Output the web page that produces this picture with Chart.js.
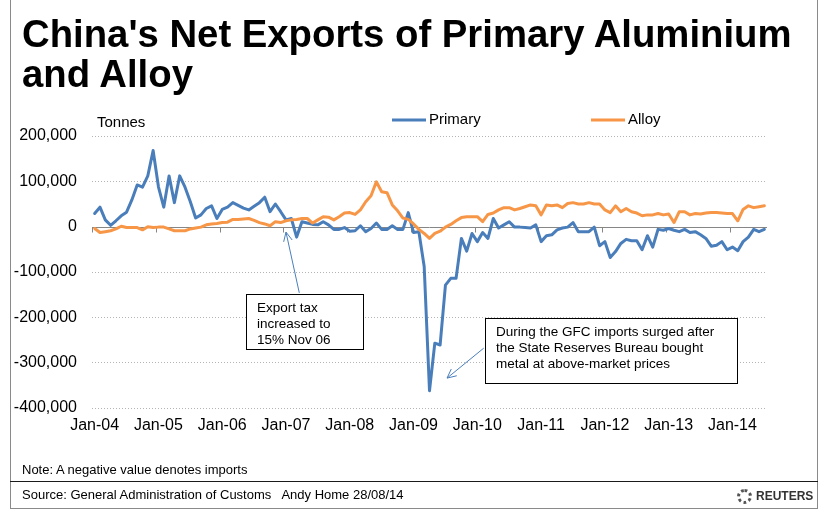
<!DOCTYPE html>
<html>
<head>
<meta charset="utf-8">
<script src="https://cdn.jsdelivr.net/npm/chart.js@4.4.1/dist/chart.umd.min.js"></script>
<style>
html,body{margin:0;padding:0;background:#fff;}
body{width:827px;height:515px;position:relative;overflow:hidden;font-family:"Liberation Sans",Arial,sans-serif;color:#000;}
#c{position:absolute;left:0;top:0;}
#frame{position:absolute;left:10px;top:-1px;width:808px;height:510px;border:1px solid #8a8a8a;box-sizing:border-box;}
#sep{position:absolute;left:10px;top:481px;width:808px;height:1px;background:#1a1a1a;}
#title{position:absolute;left:22px;top:14px;font-weight:bold;font-size:38.3px;line-height:40px;white-space:nowrap;}
#unit{position:absolute;left:97px;top:113px;font-size:15px;line-height:17px;}
#note{position:absolute;left:22px;top:462px;font-size:13px;line-height:15px;white-space:pre;}
#src{position:absolute;left:22px;top:487px;font-size:13px;line-height:15px;white-space:pre;}
#reuters{position:absolute;left:737px;top:487px;height:18px;display:flex;align-items:center;}
#reuters .dot{width:9px;height:9px;border:3px dotted #555;border-radius:50%;margin-right:4px;}
#reuters .txt{font-weight:bold;font-size:12px;color:#333;letter-spacing:0px;}
</style>
</head>
<body>
<canvas id="c" width="827" height="515"></canvas>
<div id="frame"></div>
<div id="sep"></div>
<div id="title">China's Net Exports of Primary Aluminium<br>and Alloy</div>
<div id="unit">Tonnes</div>
<div id="note">Note: A negative value denotes imports</div>
<div id="src">Source: General Administration of Customs   Andy Home 28/08/14</div>
<div id="reuters"><span class="dot"></span><span class="txt">REUTERS</span></div>
<script>
// ---- categories ----
const years = ['04','05','06','07','08','09','10','11','12','13','14'];
const monthNames = ['Jan','Feb','Mar','Apr','May','Jun','Jul','Aug','Sep','Oct','Nov','Dec'];
const monthsInLastYear = 7; // data runs to Jul-14
const categories = [];
years.forEach((y, yi) => {
  const n = yi === years.length - 1 ? monthsInLastYear : 12;
  for (let m = 0; m < n; m++) categories.push(monthNames[m] + '-' + y);
});
const tickLabels = years.map(y => 'Jan-' + y);

// ---- series (tonnes) ----
const primary = [
  29000,43000,15000,3000,13000,24000,32000,59000,92000,87000,112000,168000,
  88000,43000,112000,53000,112000,87000,55000,19000,26000,40000,46000,18000,
  38000,43000,53000,47000,41000,37000,45000,53000,65000,33000,50000,33000,
  15000,18000,-23000,11000,8000,5000,4000,11000,4000,-6000,-6000,-2000,
  -10000,-9000,2000,-11000,-4000,8000,-6000,-6000,2000,-6000,-6000,31000,
  -13000,-11000,-88000,-362000,-257000,-261000,-129000,-114000,-114000,-26000,-54000,-15000,
  -33000,-13000,-26000,18000,-3000,4000,11000,-1000,-1000,-2000,-3000,4000,
  -33000,-20000,-18000,-7000,-3000,-1000,9000,-11000,-11000,-11000,-1000,-42000,
  -33000,-68000,-55000,-37000,-28000,-31000,-31000,-51000,-20000,-45000,-6000,-8000,
  -4000,-8000,-11000,-6000,-13000,-11000,-18000,-26000,-43000,-41000,-33000,-51000,
  -45000,-53000,-33000,-23000,-6000,-11000,-6000
];
const alloy = [
  -4000,-13000,-11000,-9000,-5000,1000,-2000,-2000,-2000,-7000,0,-2000,
  -1000,-1000,-5000,-9000,-9000,-9000,-5000,-3000,-1000,4000,6000,7000,
  9000,10000,16000,16000,17000,18000,14000,9000,6000,2000,11000,9000,
  13000,15000,16000,18000,18000,8000,15000,22000,21000,15000,22000,30000,
  31000,27000,37000,55000,68000,99000,77000,75000,48000,35000,19000,16000,
  6000,-6000,-15000,-26000,-15000,-10000,-1000,5000,13000,20000,22000,22000,
  22000,11000,27000,30000,37000,42000,42000,37000,40000,44000,48000,46000,
  26000,48000,46000,48000,42000,51000,53000,50000,50000,53000,50000,50000,
  37000,31000,46000,33000,40000,33000,30000,24000,26000,26000,29000,26000,
  28000,9000,33000,33000,26000,29000,28000,30000,31000,31000,30000,29000,
  29000,13000,38000,46000,42000,44000,46000
];
const seriesNames = ['Primary', 'Alloy'];

// ---- annotations (data coordinates: category index, tonnes) ----
const notes = [
  { lines: ['Export tax', 'increased to', '15% Nov 06'],
    box: [28.5, -148000, 50.5, -270000], from: [38.5, -146000], to: [36, -12000] },
  { lines: ['During the GFC imports surged after', 'the State Reserves Bureau bought', 'metal at above-market prices'],
    box: [73.4, -201000, 120.8, -344000], from: [73.2, -268000], to: [66.3, -334000] }
];

const FONT = '"Liberation Sans", Arial, sans-serif';
const BLUE = '#4A7EBB', ORANGE = '#F79646';

function arrow(ctx, x1, y1, x2, y2) {
  ctx.beginPath(); ctx.moveTo(x1, y1); ctx.lineTo(x2, y2); ctx.stroke();
  const ang = Math.atan2(y2 - y1, x2 - x1), L = 10, w = 0.45;
  ctx.beginPath();
  ctx.moveTo(x2 - L * Math.cos(ang - w), y2 - L * Math.sin(ang - w));
  ctx.lineTo(x2, y2);
  ctx.lineTo(x2 - L * Math.cos(ang + w), y2 - L * Math.sin(ang + w));
  ctx.stroke();
}

const overlay = {
  id: 'overlay',
  beforeDatasetsDraw(chart) {
    const { ctx, chartArea: a, scales: { x, y } } = chart;
    const y0 = Math.round(y.getPixelForValue(0)) + 0.5;
    const slot = x.getPixelForValue(1) - x.getPixelForValue(0);
    ctx.save();
    ctx.strokeStyle = '#868686'; ctx.lineWidth = 1;
    ctx.beginPath(); ctx.moveTo(a.left, y0); ctx.lineTo(a.right, y0); ctx.stroke();
    categories.forEach((c, i) => {
      if (c.startsWith('Jan')) {
        const px = Math.round(x.getPixelForValue(i) - slot / 2) + 0.5;
        ctx.beginPath(); ctx.moveTo(px, y0); ctx.lineTo(px, y0 + 5); ctx.stroke();
      }
    });
    ctx.restore();
  },
  afterDraw(chart) {
    const { ctx, scales: { x, y } } = chart;
    ctx.save();
    // legend
    const legendX = [392, 591];
    ctx.font = '15px ' + FONT; ctx.textBaseline = 'middle';
    chart.data.datasets.forEach((ds, i) => {
      ctx.strokeStyle = ds.borderColor; ctx.lineWidth = 3; ctx.lineCap = 'butt';
      ctx.beginPath(); ctx.moveTo(legendX[i], 120); ctx.lineTo(legendX[i] + 34, 120); ctx.stroke();
      ctx.fillStyle = '#000'; ctx.fillText(ds.label, legendX[i] + 37, 120);
    });
    // annotations
    ctx.lineCap = 'butt';
    notes.forEach(n => {
      const l = Math.round(x.getPixelForValue(n.box[0])) + 0.5, t = Math.round(y.getPixelForValue(n.box[1])) + 0.5;
      const r = Math.round(x.getPixelForValue(n.box[2])) + 0.5, b = Math.round(y.getPixelForValue(n.box[3])) + 0.5;
      ctx.fillStyle = '#fff'; ctx.fillRect(l, t, r - l, b - t);
      ctx.strokeStyle = '#000'; ctx.lineWidth = 1; ctx.strokeRect(l, t, r - l, b - t);
      ctx.fillStyle = '#000'; ctx.font = '13.5px ' + FONT; ctx.textBaseline = 'alphabetic';
      n.lines.forEach((s, k) => ctx.fillText(s, l + 10.5, t + 17 + k * 16));
      ctx.strokeStyle = BLUE; ctx.lineWidth = 1;
      arrow(ctx, x.getPixelForValue(n.from[0]), y.getPixelForValue(n.from[1]),
                 x.getPixelForValue(n.to[0]), y.getPixelForValue(n.to[1]));
    });
    ctx.restore();
  }
};

new Chart(document.getElementById('c'), {
  type: 'line',
  data: {
    labels: categories,
    datasets: [
      { label: seriesNames[0], data: primary, borderColor: BLUE, backgroundColor: BLUE, order: 1 },
      { label: seriesNames[1], data: alloy, borderColor: ORANGE, backgroundColor: ORANGE, order: 0 }
    ]
  },
  options: {
    responsive: false, animation: false, devicePixelRatio: 1,
    layout: { padding: { left: 0, right: 60, top: 136, bottom: 77 } },
    plugins: { legend: { display: false }, tooltip: { enabled: false }, title: { display: false } },
    elements: {
      point: { radius: 0, hoverRadius: 0 },
      line: { tension: 0, borderWidth: 3, borderJoinStyle: 'round', borderCapStyle: 'round', fill: false }
    },
    scales: {
      x: {
        type: 'category', offset: true,
        grid: { display: false, drawTicks: false }, border: { display: false },
        ticks: {
          autoSkip: false, maxRotation: 0, minRotation: 0, padding: 8, color: '#000',
          font: { family: FONT, size: 16 },
          callback: (v, i) => tickLabels.includes(categories[i]) ? categories[i] : null
        },
        afterFit(s) { s.height = 30; }
      },
      y: {
        min: -400000, max: 200000,
        ticks: { stepSize: 100000, padding: 15, color: '#000', font: { family: FONT, size: 16 },
                 callback: v => v.toLocaleString('en-US') },
        grid: { drawTicks: false, lineWidth: 1,
                color: c => (c.tick && c.tick.value === 0) ? 'rgba(0,0,0,0)' : '#b4b4b4' },
        border: { display: false, dash: [1, 2] },
        afterFit(s) { s.width = 92; }
      }
    }
  },
  plugins: [overlay]
});
</script>
</body>
</html>
